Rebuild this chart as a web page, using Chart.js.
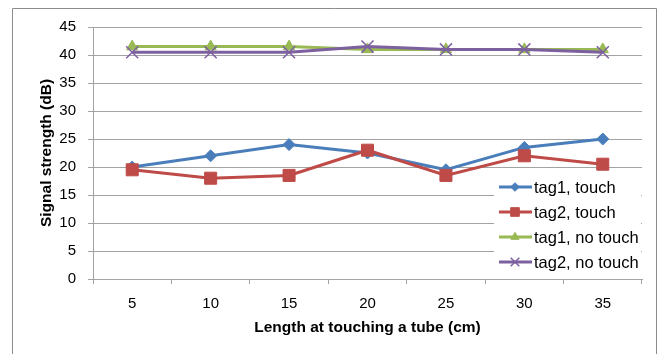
<!DOCTYPE html>
<html>
<head>
<meta charset="utf-8">
<script src="https://cdn.jsdelivr.net/npm/chart.js@4/dist/chart.umd.min.js"></script>
<style>
  html, body { margin: 0; padding: 0; background: #fff; }
  #wrap { width: 659px; height: 354px; position: relative; }
</style>
</head>
<body>
<div id="wrap"><canvas id="c" width="659" height="354"></canvas></div>
<script>
// values
const lengths = ['5', '10', '15', '20', '25', '30', '35'];
const tag1Touch = [20, 22, 24, 22.5, 19.5, 23.5, 25];
const tag2Touch = [19.5, 18, 18.5, 23, 18.5, 22, 20.5];
const tag1NoTouch = [41.5, 41.5, 41.5, 41, 41, 41, 41];
const tag2NoTouch = [40.5, 40.5, 40.5, 41.5, 41, 41, 40.5];
const seriesNames = ['tag1, touch', 'tag2, touch', 'tag1, no touch', 'tag2, no touch'];

const FONT = "'Liberation Sans', Arial, sans-serif";
const GRID = '#a3a3a3';

// chart frame (outer border) + overlapping legend, Excel style
const excelDeco = {
    id: 'excelDeco',
    beforeDraw(chart) {
        const ctx = chart.ctx;
        ctx.save();
        ctx.strokeStyle = '#8c8c8c';
        ctx.lineWidth = 1;
        ctx.beginPath();
        ctx.moveTo(12.5, 360);
        ctx.lineTo(12.5, 8.5);
        ctx.lineTo(656.5, 8.5);
        ctx.lineTo(656.5, 360);
        ctx.stroke();
        ctx.restore();
    },
    afterDraw(chart) {
        const ctx = chart.ctx;
        ctx.save();
        ctx.fillStyle = '#fff';
        ctx.fillRect(494, 174, 147, 101);
        ctx.font = '16.5px ' + FONT;
        ctx.textBaseline = 'middle';
        ctx.textAlign = 'left';
        chart.data.datasets.forEach((ds, i) => {
            const y = 187 + i * 25;
            ctx.strokeStyle = ds.borderColor;
            ctx.lineWidth = 3;
            ctx.beginPath();
            ctx.moveTo(499, y);
            ctx.lineTo(532, y);
            ctx.stroke();
            ctx.fillStyle = ds.pointBackgroundColor;
            ctx.strokeStyle = ds.pointBorderColor;
            ctx.lineWidth = ds.pointBorderWidth;
            Chart.helpers.drawPoint(ctx, {
                pointStyle: ds.pointStyle, rotation: 0,
                radius: ds.pointRadius * 0.72, borderWidth: ds.pointBorderWidth
            }, 515, y);
            ctx.fillStyle = '#000';
            ctx.fillText(ds.label, 534, y + 1);
        });
        ctx.restore();
    }
};

function series(label, data, color, style, radius, order) {
    return {
        label: label,
        data: data,
        borderColor: color,
        backgroundColor: color,
        borderWidth: 3,
        pointStyle: style,
        pointRadius: radius,
        pointHoverRadius: radius,
        pointBackgroundColor: color,
        pointBorderColor: color,
        pointBorderWidth: style === 'crossRot' ? 1.5 : 1,
        tension: 0,
        fill: false,
        order: order
    };
}

new Chart(document.getElementById('c'), {
    type: 'line',
    data: {
        labels: lengths,
        datasets: [
            series(seriesNames[0], tag1Touch, '#4a7ebb', 'rectRot', 6, 4),
            series(seriesNames[1], tag2Touch, '#be4b48', 'rect', 8.5, 3),
            series(seriesNames[2], tag1NoTouch, '#98b954', 'triangle', 6.5, 2),
            series(seriesNames[3], tag2NoTouch, '#7d60a0', 'crossRot', 8.5, 1)
        ]
    },
    options: {
        responsive: false,
        animation: false,
        events: [],
        layout: { padding: { left: 0, right: 17, top: 27, bottom: 0 } },
        plugins: { legend: { display: false }, tooltip: { enabled: false } },
        scales: {
            x: {
                offset: true,
                afterFit: (s) => { s.height = 75; },
                grid: { offset: true, drawOnChartArea: false, drawTicks: true, tickLength: 5, color: GRID },
                border: { color: GRID },
                ticks: { color: '#000', padding: 11, font: { family: FONT, size: 15 } },
                title: {
                    display: true, text: 'Length at touching a tube (cm)', color: '#000',
                    font: { family: FONT, size: 15.5, weight: 'bold' },
                    padding: { top: 0, bottom: 17 }
                }
            },
            y: {
                min: 0, max: 45,
                afterFit: (s) => { s.width = 93; },
                grid: { color: GRID, tickLength: 5 },
                border: { color: GRID },
                ticks: { stepSize: 5, color: '#000', padding: 12, font: { family: FONT, size: 15 } },
                title: {
                    display: true, text: 'Signal strength (dB)', color: '#000',
                    font: { family: FONT, size: 15.5, weight: 'bold' },
                    padding: { top: 37, bottom: 0 }
                }
            }
        }
    },
    plugins: [excelDeco]
});
</script>
</body>
</html>
